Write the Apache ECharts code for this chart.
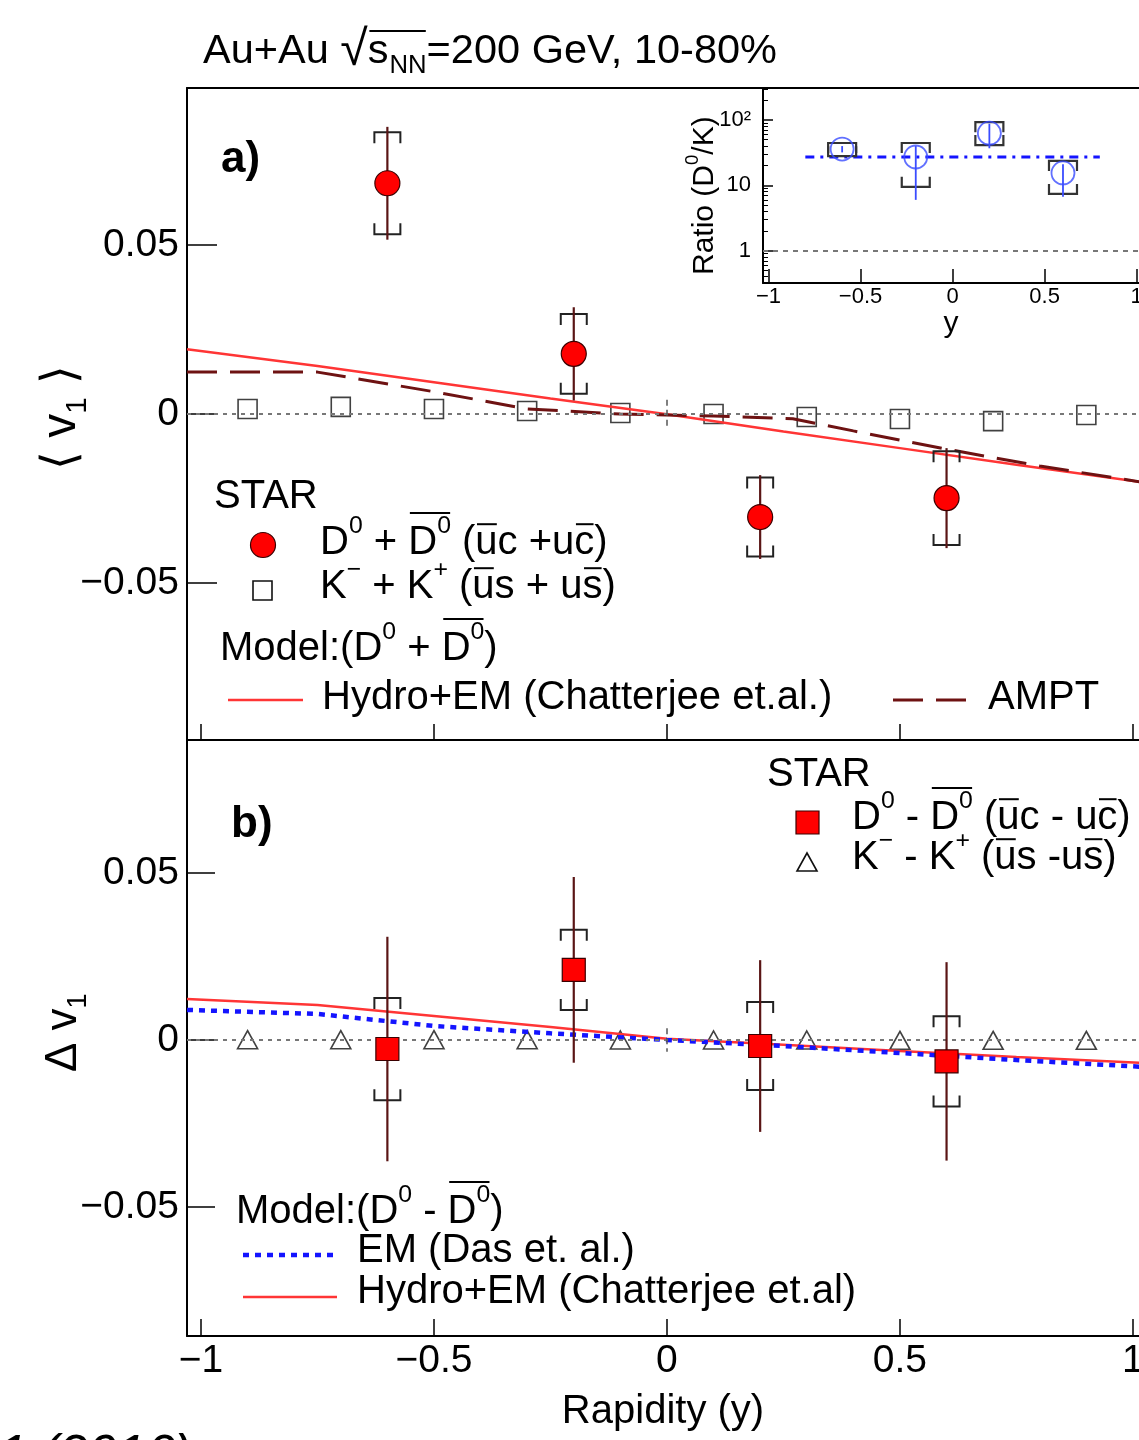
<!DOCTYPE html>
<html><head><meta charset="utf-8">
<script src="https://cdn.jsdelivr.net/npm/echarts@6/dist/echarts.min.js"></script>
<style>html,body{margin:0;padding:0;background:#fff}#c{width:1139px;height:1440px}</style>
</head><body><div id="c"></div>
<script>
// ---------------- data ----------------
const xTicks = [-1, -0.5, 0, 0.5, 1];
const yTicksA = [-0.05, 0, 0.05];
const yTicksB = [-0.05, 0, 0.05];
const ratioTicks = [1, 10, 100];
const ratioMinorTicks = [0.4,0.5,0.6,0.7,0.8,0.9,2,3,4,5,6,7,8,9,20,30,40,50,60,70,80,90,200,300];

// panel a : D0 + D0bar
const dX = [-0.6, -0.2, 0.2, 0.6];
const v1D = [0.0683, 0.0178, -0.0305, -0.0249];
const v1DStat = [0.0167, 0.0138, 0.0124, 0.0148];
const v1DSys = [0.0151, 0.0118, 0.0117, 0.0139];
// kaons K- + K+
const kX = [-0.9, -0.7, -0.5, -0.3, -0.1, 0.1, 0.3, 0.5, 0.7, 0.9];
const v1K = [0.0015, 0.0021, 0.0015, 0.0009, 0.0003, 0.0000, -0.0009, -0.0015, -0.0021, -0.0003];
// models panel a
const modelX = [-1.03, -0.75, -0.5, -0.25, 0, 0.25, 0.5, 0.75, 1.03];
const hydroA = [0.0192, 0.0142, 0.0094, 0.0046, -0.0001, -0.0052, -0.0101, -0.0150, -0.0204];
const amptX = [-1.03, -0.75, -0.5, -0.3, -0.1, 0.1, 0.27, 0.4, 0.6, 0.8, 1.03];
const amptA = [0.0124, 0.0124, 0.0066, 0.0015, 0.0000, -0.0006, -0.0014, -0.0050, -0.0104, -0.0154, -0.0204];

// panel b : D0 - D0bar
const dv1D = [-0.0027, 0.0210, -0.0018, -0.0064];
const dv1DStat = [0.0336, 0.0278, 0.0257, 0.0297];
const dv1DSys = [0.0153, 0.0120, 0.0132, 0.0135];
const dv1K = [0.0001, 0.0001, 0.0001, 0.0001, 0.0000, 0.0000, 0.0000, -0.0001, -0.0001, -0.0001];
const hydroB = [0.0123, 0.0105, 0.0072, 0.0039, 0.0004, -0.0014, -0.0033, -0.0051, -0.0069];
const emB = [0.0090, 0.0078, 0.0042, 0.0020, 0.0000, -0.0018, -0.0039, -0.0060, -0.0081];

// inset : ratio D0/K
const insetX = [-0.6, -0.2, 0.2, 0.6];
const ratio = [36, 27.2, 63, 15.5];
const ratioStatLo = [32, 6.0, 37, 6.7];
const ratioStatHi = [40, 40, 88, 21];
const ratioSysLo = [28, 9.5, 41.5, 7.4];
const ratioSysHi = [44.6, 44.6, 93, 23.7];
const fitX = [-0.8, 0.8];
const fitY = [27.2, 27.2];

// ---------------- helpers ----------------
const FF = "'Liberation Sans', Arial, Helvetica, sans-serif";
const mctx = document.createElement('canvas').getContext('2d');
function tw(t, fs, w, st) { mctx.font = (st || 'normal') + ' ' + (w || 'normal') + ' ' + fs + 'px ' + FF; return mctx.measureText(t).width; }

function richLine(parts, x0, y0, size, o) {
  o = o || {};
  const kids = [], bars = {};
  let x = 0;
  for (const p of parts) {
    const small = p.sup || p.sub;
    const fs = p.fs || (small ? size * 0.62 : size);
    const dy = p.sup ? -size * 0.42 : (p.sub ? size * 0.33 : (p.dy || 0));
    const w = tw(p.t, fs, o.weight, o.style);
    kids.push({type: 'text', x: x, y: dy, silent: true,
      style: {text: p.t, fontSize: fs, fontFamily: FF, fontWeight: o.weight || 'normal', fontStyle: o.style || 'normal',
              fill: o.color || '#000', align: 'left', verticalAlign: o.va || 'middle'}});
    if (p.bar) {
      const top = dy - fs * 0.37 - size * 0.1;
      const b = bars[p.bar];
      if (!b) bars[p.bar] = {x1: x, x2: x + w, top: top};
      else { b.x2 = x + w; b.top = Math.min(b.top, top); }
    }
    x += w + (p.gap || 0);
  }
  for (const k in bars) {
    const b = bars[k];
    const y = (o.barY && o.barY[k] != null) ? o.barY[k] : b.top;
    kids.push({type: 'line', silent: true, shape: {x1: b.x1 + size * 0.04, y1: y, x2: b.x2 - size * 0.02, y2: y},
      style: {stroke: o.color || '#000', lineWidth: Math.max(1.5, size * 0.05)}});
  }
  return {type: 'group', x: x0, y: y0, rotation: o.rot || 0, children: kids};
}

function statItem(color, lw) {
  return function (params, api) {
    const a = api.coord([api.value(0), api.value(1)]);
    const b = api.coord([api.value(0), api.value(2)]);
    return {type: 'line', shape: {x1: a[0], y1: a[1], x2: b[0], y2: b[1]}, style: {stroke: color, lineWidth: lw}};
  };
}
function sysItem(color, hw, leg, lw) {
  return function (params, api) {
    const lo = api.coord([api.value(0), api.value(1)]);
    const hi = api.coord([api.value(0), api.value(2)]);
    const cx = lo[0];
    return {type: 'group', children: [
      {type: 'polyline', shape: {points: [[cx - hw, hi[1] + leg], [cx - hw, hi[1]], [cx + hw, hi[1]], [cx + hw, hi[1] + leg]]}, style: {stroke: color, fill: 'none', lineWidth: lw}},
      {type: 'polyline', shape: {points: [[cx - hw, lo[1] - leg], [cx - hw, lo[1]], [cx + hw, lo[1]], [cx + hw, lo[1] - leg]]}, style: {stroke: color, fill: 'none', lineWidth: lw}}
    ]};
  };
}
const zip = (xs, ys) => xs.map((x, i) => [x, ys[i]]);
const band = (xs, ys, es) => xs.map((x, i) => [x, ys[i] - es[i], ys[i] + es[i]]);
const band2 = (xs, lo, hi) => xs.map((x, i) => [x, lo[i], hi[i]]);
const fmtX = v => v === 0 ? '0' : (v < 0 ? '\u2212' : '') + Math.abs(v);
const fmtY = v => v === 0 ? '0' : (v < 0 ? '\u2212' : '') + Math.abs(v).toFixed(2);

const RED = '#ff0000', STATC = '#5a1515', SYSC = '#222', LRED = '#ff3535', AMPTC = '#6e1212', BLUE = '#1414ff', ICIRC = '#3a4cff';
const AXL = {show: true, onZero: false, lineStyle: {color: '#000', width: 2}};
const NOAXL = {show: false, onZero: false};

// ---------------- chart ----------------
const chart = echarts.init(document.getElementById('c'), null, {renderer: 'canvas'});
const S = 39;
const XMIN = -1.03, XMAX = 1.013;
const option = {
  animation: false,
  backgroundColor: '#fff',
  textStyle: {fontFamily: FF, color: '#000'},
  grid: [
    {left: 187, top: 88, width: 952, height: 652, outerBoundsMode: 'none', containLabel: false},
    {left: 187, top: 740, width: 952, height: 596, outerBoundsMode: 'none', containLabel: false},
    {left: 763, top: 88, width: 376, height: 195, show: true, borderWidth: 0, backgroundColor: '#fff', outerBoundsMode: 'none', containLabel: false}
  ],
  xAxis: [
    {gridIndex: 0, type: 'value', min: XMIN, max: XMAX, axisLine: AXL, splitLine: {show: false},
     axisTick: {inside: true, length: 16, customValues: xTicks, lineStyle: {color: '#000', width: 1.5}},
     axisLabel: {show: false}},
    {gridIndex: 1, type: 'value', min: XMIN, max: XMAX, axisLine: AXL, splitLine: {show: false},
     axisTick: {inside: true, length: 17, customValues: xTicks, lineStyle: {color: '#000', width: 1.5}},
     axisLabel: {customValues: xTicks, formatter: fmtX, fontSize: S, color: '#000', margin: 6, fontFamily: FF},
     name: 'Rapidity (y)', nameLocation: 'middle', nameGap: 56, nameTextStyle: {fontSize: 40, color: '#000', fontFamily: FF}},
    {gridIndex: 2, type: 'value', min: XMIN, max: XMAX, axisLine: AXL, splitLine: {show: false},
     axisTick: {inside: true, length: 14, customValues: xTicks, lineStyle: {color: '#000', width: 1.5}},
     axisLabel: {customValues: xTicks, formatter: fmtX, fontSize: 22, color: '#000', margin: 3, fontFamily: FF},
     name: 'y', nameLocation: 'middle', nameGap: 24, nameTextStyle: {fontSize: 30, color: '#000', fontFamily: FF}},
    {gridIndex: 0, type: 'value', position: 'top', min: XMIN, max: XMAX, axisLine: AXL, splitLine: {show: false},
     axisTick: {show: false}, axisLabel: {show: false}}
  ],
  yAxis: [
    {gridIndex: 0, type: 'value', position: 'left', min: -0.0965, max: 0.0965, axisLine: AXL, splitLine: {show: false},
     axisTick: {inside: true, length: 30, customValues: yTicksA, lineStyle: {color: '#000', width: 1.5}},
     axisLabel: {customValues: yTicksA, formatter: fmtY, fontSize: S, color: '#000', margin: 8, fontFamily: FF}},
    {gridIndex: 1, type: 'value', position: 'left', min: -0.0886, max: 0.0898, axisLine: AXL, splitLine: {show: false},
     axisTick: {inside: true, length: 28, customValues: yTicksB, lineStyle: {color: '#000', width: 1.5}},
     axisLabel: {customValues: yTicksB, formatter: fmtY, fontSize: S, color: '#000', margin: 8, fontFamily: FF}},
    {gridIndex: 2, type: 'log', position: 'left', logBase: 10, min: 0.32, max: 310, axisLine: AXL, splitLine: {show: false},
     axisTick: {inside: true, length: 10, customValues: ratioTicks, lineStyle: {color: '#000', width: 1.5}},
     axisLabel: {customValues: ratioTicks, formatter: v => v === 100 ? '10\u00B2' : String(v), fontSize: 22, color: '#000', margin: 12, fontFamily: FF}},
    {gridIndex: 2, type: 'log', position: 'left', offset: 0, logBase: 10, min: 0.32, max: 310, axisLine: NOAXL, splitLine: {show: false},
     axisTick: {inside: true, length: 5, customValues: ratioMinorTicks, lineStyle: {color: '#000', width: 1}},
     axisLabel: {show: false}}
  ],
  series: [
    // ---- panel a ----
    {type: 'scatter', xAxisIndex: 0, yAxisIndex: 0, data: zip(kX, v1K), symbol: 'rect', symbolSize: 19, z: 3,
     itemStyle: {color: 'rgba(0,0,0,0)', borderColor: '#111', borderWidth: 1.6},
     markLine: {silent: true, symbol: 'none', label: {show: false}, animation: false,
       data: [
         {yAxis: 0, lineStyle: {color: '#777', type: [4, 5], width: 2}},
         [{coord: [0, 0.0042], lineStyle: {color: '#555', type: [6, 4], width: 1.5}}, {coord: [0, -0.0042]}]
       ]}},
    {type: 'line', xAxisIndex: 0, yAxisIndex: 0, data: zip(modelX, hydroA), showSymbol: false, z: 4,
     lineStyle: {color: LRED, width: 2.5}},
    {type: 'line', xAxisIndex: 0, yAxisIndex: 0, data: zip(amptX, amptA), showSymbol: false, z: 4,
     lineStyle: {color: AMPTC, width: 3, type: [30, 13]}},
    {type: 'custom', xAxisIndex: 0, yAxisIndex: 0, data: band(dX, v1D, v1DSys), encode: {x: 0, y: [1, 2]}, z: 5,
     renderItem: sysItem(SYSC, 13, 11, 2)},
    {type: 'custom', xAxisIndex: 0, yAxisIndex: 0, data: band(dX, v1D, v1DStat), encode: {x: 0, y: [1, 2]}, z: 5,
     renderItem: statItem(STATC, 2.2)},
    {type: 'scatter', xAxisIndex: 0, yAxisIndex: 0, data: zip(dX, v1D), symbol: 'circle', symbolSize: 25, z: 6,
     itemStyle: {color: RED, borderColor: '#3a0000', borderWidth: 1.2, opacity: 1}},
    // ---- panel b ----
    {type: 'scatter', xAxisIndex: 1, yAxisIndex: 1, data: zip(kX, dv1K), symbol: 'triangle', symbolSize: [20, 18], z: 3,
     itemStyle: {color: 'rgba(0,0,0,0)', borderColor: '#111', borderWidth: 1.6},
     markLine: {silent: true, symbol: 'none', label: {show: false}, animation: false,
       data: [
         {yAxis: 0, lineStyle: {color: '#777', type: [4, 5], width: 2}},
         [{coord: [0, 0.0035], lineStyle: {color: '#555', type: [6, 4], width: 1.5}}, {coord: [0, -0.0035]}]
       ]}},
    {type: 'line', xAxisIndex: 1, yAxisIndex: 1, data: zip(modelX, hydroB), showSymbol: false, z: 4,
     lineStyle: {color: LRED, width: 2.5}},
    {type: 'line', xAxisIndex: 1, yAxisIndex: 1, data: zip(modelX, emB), showSymbol: false, z: 4,
     lineStyle: {color: BLUE, width: 4.5, type: [6, 6]}},
    {type: 'custom', xAxisIndex: 1, yAxisIndex: 1, data: band(dX, dv1D, dv1DSys), encode: {x: 0, y: [1, 2]}, z: 5,
     renderItem: sysItem(SYSC, 13, 11, 2)},
    {type: 'custom', xAxisIndex: 1, yAxisIndex: 1, data: band(dX, dv1D, dv1DStat), encode: {x: 0, y: [1, 2]}, z: 5,
     renderItem: statItem(STATC, 2.2)},
    {type: 'scatter', xAxisIndex: 1, yAxisIndex: 1, data: zip(dX, dv1D), symbol: 'rect', symbolSize: 23, z: 6,
     itemStyle: {color: RED, borderColor: '#3a0000', borderWidth: 1.2, opacity: 1}},
    // ---- inset ----
    {type: 'line', xAxisIndex: 2, yAxisIndex: 2, data: zip(fitX, fitY), showSymbol: false, z: 4,
     lineStyle: {color: BLUE, width: 3, type: [9, 6, 3, 6]},
     markLine: {silent: true, symbol: 'none', label: {show: false}, animation: false,
       data: [{yAxis: 1, lineStyle: {color: '#777', type: [5, 5], width: 2}}]}},
    {type: 'custom', xAxisIndex: 2, yAxisIndex: 2, data: band2(insetX, ratioSysLo, ratioSysHi), encode: {x: 0, y: [1, 2]}, z: 5,
     renderItem: sysItem('#333', 14, 10, 2.2)},
    {type: 'custom', xAxisIndex: 2, yAxisIndex: 2, data: band2(insetX, ratioStatLo, ratioStatHi), encode: {x: 0, y: [1, 2]}, z: 5,
     renderItem: statItem(ICIRC, 1.8)},
    {type: 'scatter', xAxisIndex: 2, yAxisIndex: 2, data: zip(insetX, ratio), symbol: 'circle', symbolSize: 23, z: 6,
     itemStyle: {color: 'rgba(0,0,0,0)', borderColor: ICIRC, borderWidth: 1.8}}
  ],
  graphic: []
};

// ---------------- texts & legends ----------------
const G = [];
// title
G.push(richLine([{t: 'Au+Au '}, {t: '\u221A', fs: 50, dy: -1}, {t: 's', bar: 'r', gap: 1}, {t: 'NN', sub: 1, bar: 'r'}, {t: '=200 GeV, 10-80%'}],
  203, 52, 41.5, {barY: {r: -21}}));
// panel labels
G.push(richLine([{t: 'a)'}], 221, 160, 44, {weight: 'bold'}));
G.push(richLine([{t: 'b)'}], 231, 825, 44, {weight: 'bold'}));
// axis titles (rotated)
G.push(richLine([{t: '\u27E8 '}, {t: 'v'}, {t: '1', sub: 1}, {t: ' \u27E9'}], 62, 470, 48, {rot: Math.PI / 2}));
G.push(richLine([{t: '\u0394 '}, {t: 'v'}, {t: '1', sub: 1}], 64, 1072, 44, {rot: Math.PI / 2}));
G.push(richLine([{t: 'Ratio (D'}, {t: '0', sup: 1}, {t: '/K)'}], 705, 275, 30, {rot: Math.PI / 2}));

// panel a legend
const L = 40;
G.push(richLine([{t: 'STAR'}], 214, 497, L));
G.push({type: 'circle', silent: true, shape: {cx: 263, cy: 545, r: 12.5}, style: {fill: RED, stroke: '#3a0000', lineWidth: 1.2}});
G.push(richLine([{t: 'D'}, {t: '0', sup: 1}, {t: ' + '}, {t: 'D', bar: 'a'}, {t: '0', sup: 1, bar: 'a'}, {t: ' ('},
  {t: 'u', bar: 'b'}, {t: 'c +u'}, {t: 'c', bar: 'c'}, {t: ')'}], 320, 543, L));
G.push({type: 'rect', silent: true, shape: {x: 253, y: 581, width: 19, height: 19}, style: {fill: 'none', stroke: '#111', lineWidth: 1.6}});
G.push(richLine([{t: 'K'}, {t: '\u2212', sup: 1}, {t: ' + '}, {t: 'K'}, {t: '+', sup: 1}, {t: ' ('},
  {t: 'u', bar: 'b'}, {t: 's + u'}, {t: 's', bar: 'c'}, {t: ')'}], 320, 587, L));
G.push(richLine([{t: 'Model:(D'}, {t: '0', sup: 1}, {t: ' + '}, {t: 'D', bar: 'a'}, {t: '0', sup: 1, bar: 'a'}, {t: ')'}], 220, 649, L));
G.push({type: 'line', silent: true, shape: {x1: 228, y1: 700, x2: 303, y2: 700}, style: {stroke: LRED, lineWidth: 2.5}});
G.push(richLine([{t: 'Hydro+EM (Chatterjee et.al.)'}], 322, 698, L));
G.push({type: 'line', silent: true, shape: {x1: 893, y1: 700, x2: 970, y2: 700}, style: {stroke: AMPTC, lineWidth: 3, lineDash: [30, 13]}});
G.push(richLine([{t: 'AMPT'}], 988, 698, L));

// panel b legend
G.push(richLine([{t: 'STAR'}], 767, 775, L));
G.push({type: 'rect', silent: true, shape: {x: 796, y: 811, width: 23, height: 23}, style: {fill: RED, stroke: '#3a0000', lineWidth: 1.2}});
G.push(richLine([{t: 'D'}, {t: '0', sup: 1}, {t: ' - '}, {t: 'D', bar: 'a'}, {t: '0', sup: 1, bar: 'a'}, {t: ' ('},
  {t: 'u', bar: 'b'}, {t: 'c - u'}, {t: 'c', bar: 'c'}, {t: ')'}], 852, 818, L));
G.push({type: 'polygon', silent: true, shape: {points: [[807, 853], [797, 871], [817, 871]]}, style: {fill: 'none', stroke: '#111', lineWidth: 1.6}});
G.push(richLine([{t: 'K'}, {t: '\u2212', sup: 1}, {t: ' - '}, {t: 'K'}, {t: '+', sup: 1}, {t: ' ('},
  {t: 'u', bar: 'b'}, {t: 's -u'}, {t: 's', bar: 'c'}, {t: ')'}], 852, 858, L));
G.push(richLine([{t: 'Model:(D'}, {t: '0', sup: 1}, {t: ' - '}, {t: 'D', bar: 'a'}, {t: '0', sup: 1, bar: 'a'}, {t: ')'}], 236, 1212, L));
G.push({type: 'line', silent: true, shape: {x1: 243, y1: 1255, x2: 337, y2: 1255}, style: {stroke: BLUE, lineWidth: 4.5, lineDash: [6, 6]}});
G.push(richLine([{t: 'EM (Das et. al.)'}], 357, 1251, L));
G.push({type: 'line', silent: true, shape: {x1: 243, y1: 1297, x2: 337, y2: 1297}, style: {stroke: LRED, lineWidth: 2.5}});
G.push(richLine([{t: 'Hydro+EM (Chatterjee et.al)'}], 357, 1292, L));

// cut-off caption at the very bottom
G.push(richLine([{t: '1 (2016)'}], -2, 1457, 52, {style: 'italic'}));

option.graphic = G;
chart.setOption(option);
</script></body></html>
